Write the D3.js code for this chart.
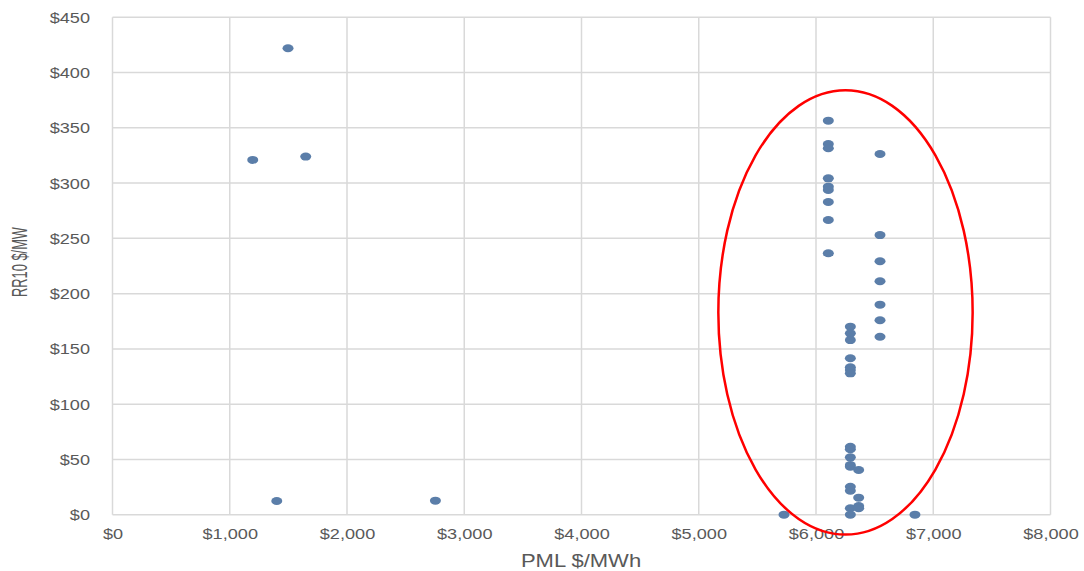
<!DOCTYPE html>
<html><head><meta charset="utf-8">
<script src="https://cdn.jsdelivr.net/npm/d3@7"></script>
<style>html,body{margin:0;padding:0;background:#fff;} svg{display:block;}</style>
</head><body>
<svg id="chart" width="1084" height="571"></svg>
<script>
// PML $/MWh (x) and RR10 $/MW (y)
const pml = [1497, 1196, 1648, 1401, 2754, 5727, 6844,
  6105, 6105, 6105, 6105, 6105, 6105, 6105, 6105, 6105,
  6546, 6546, 6546, 6546, 6546, 6546, 6546,
  6293, 6293, 6293, 6293, 6293, 6293, 6293, 6293, 6293, 6293, 6293, 6293, 6293, 6293, 6293, 6293,
  6364, 6364, 6364, 6364];
const rr10 = [422, 321, 324, 12.4, 12.7, 0, 0,
  356.5, 335.3, 331.5, 304.3, 296.8, 293.8, 282.9, 266.6, 236.5,
  326.3, 253, 229.3, 211.2, 190, 175.9, 161,
  170.1, 164.1, 158, 141.5, 133.4, 130.9, 127.9, 61.5, 59.2, 51.9, 45, 43.4, 25.3, 21.7, 5.8, 0,
  40.4, 15.4, 7.9, 5.8];
const xTicks = [0, 1000, 2000, 3000, 4000, 5000, 6000, 7000, 8000];
const yTicks = [0, 50, 100, 150, 200, 250, 300, 350, 400, 450];
// highlight ellipse bounds in data units [xMin, xMax, yMin, yMax]
const highlightX = [5167, 7336];
const highlightY = [-18, 384];

const svg = d3.select("#chart");
const x = d3.scaleLinear().domain([0, 8000]).range([112.5, 1050.5]);
const y = d3.scaleLinear().domain([0, 450]).range([514.7, 17.3]);
const fmtX = d => "$" + d3.format(",")(d);
const fmtY = d => "$" + d;
const font = "'Liberation Sans', Arial, sans-serif";
const grid = "#d9d9d9";
const sx = 1.17; // horizontal stretch of text in the picture

// vertical gridlines
svg.append("g").selectAll("line").data(xTicks).join("line")
  .attr("x1", d => x(d)).attr("x2", d => x(d))
  .attr("y1", y(450)).attr("y2", y(0))
  .attr("stroke", grid).attr("stroke-width", 1.5);
// horizontal gridlines
svg.append("g").selectAll("line").data(yTicks).join("line")
  .attr("x1", x(0)).attr("x2", x(8000))
  .attr("y1", d => y(d)).attr("y2", d => y(d))
  .attr("stroke", grid).attr("stroke-width", 1.5);

// axes with d3 axis generators (labels only)
const xAxis = svg.append("g").attr("transform", `translate(0,${y(0)})`)
  .call(d3.axisBottom(x).tickValues(xTicks).tickFormat(fmtX).tickSize(0).tickPadding(13.5));
xAxis.select(".domain").remove();
xAxis.selectAll("text").attr("font-family", font).attr("font-size", 15.5).attr("fill", "#595959")
  .attr("transform", `scale(${sx},1)`);

const yAxis = svg.append("g").attr("transform", `translate(${x(0)},0)`)
  .call(d3.axisLeft(y).tickValues(yTicks).tickFormat(fmtY).tickSize(0).tickPadding(22.5));
yAxis.select(".domain").remove();
yAxis.selectAll("text").attr("font-family", font).attr("font-size", 15.5).attr("fill", "#595959")
  .attr("x", -22.5 / sx).attr("transform", `scale(${sx},1)`);

// points
svg.append("g").selectAll("ellipse").data(pml.map((d, i) => [d, rr10[i]])).join("ellipse")
  .attr("cx", d => x(d[0])).attr("cy", d => y(d[1]))
  .attr("rx", 5.5).attr("ry", 4)
  .attr("fill", "#5b7ea9");

// highlight ellipse
svg.append("ellipse")
  .attr("cx", (x(highlightX[0]) + x(highlightX[1])) / 2)
  .attr("cy", (y(highlightY[0]) + y(highlightY[1])) / 2)
  .attr("rx", (x(highlightX[1]) - x(highlightX[0])) / 2)
  .attr("ry", (y(highlightY[0]) - y(highlightY[1])) / 2)
  .attr("fill", "none").attr("stroke", "#ff0000").attr("stroke-width", 2.5);

// axis titles
svg.append("text").attr("transform", `translate(581,566.7) scale(1.19,1)`).attr("text-anchor", "middle")
  .attr("font-family", font).attr("font-size", 18.5).attr("fill", "#595959").text("PML $/MWh");
svg.append("text").attr("transform", "translate(27,262) rotate(-90) scale(1,1.17)").attr("text-anchor", "middle")
  .attr("font-family", font).attr("font-size", 18.5).attr("fill", "#595959")
  .attr("textLength", 70).attr("lengthAdjust", "spacingAndGlyphs").text("RR10 $/MW");
</script>
</body></html>
